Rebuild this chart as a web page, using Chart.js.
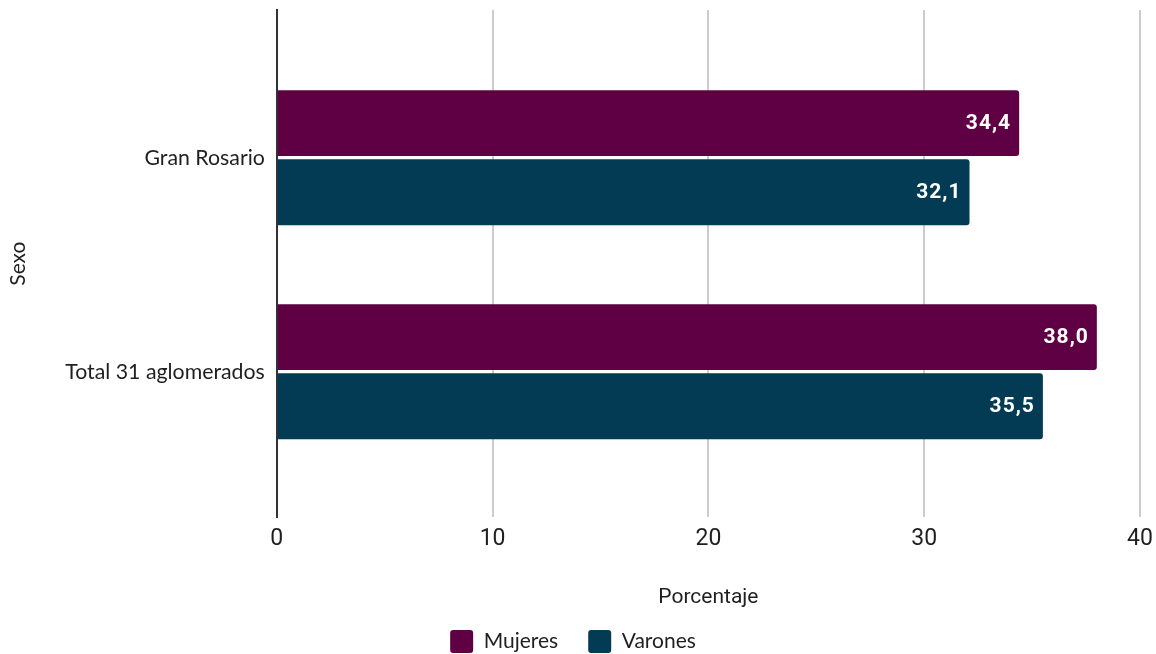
<!DOCTYPE html>
<html lang="es">
<head>
<meta charset="utf-8">
<script src="https://cdn.jsdelivr.net/npm/chart.js@4/dist/chart.umd.min.js"></script>
<style>
  html, body { margin: 0; padding: 0; background: #fff; }
  #wrap { width: 1156px; height: 654px; }
</style>
</head>
<body>
<div id="wrap"><canvas id="chart" width="1156" height="654"></canvas></div>
<script>
// Porcentaje por sexo: Gran Rosario vs total 31 aglomerados
const categorias = ["Gran Rosario", "Total 31 aglomerados"];
const mujeres = [34.4, 38.0];
const varones = [32.1, 35.5];
const xTicks = [0, 10, 20, 30, 40];

const MUJ = "#5e0043";
const VAR = "#033b55";
const TXT = "#1f1f1f";

const fmt = (v) => v.toFixed(1).replace(".", ",");

// etiquetas de valor dentro del extremo de cada barra
const valueLabels = {
  id: "valueLabels",
  afterDatasetsDraw(chart) {
    const ctx = chart.ctx;
    ctx.save();
    ctx.font = "bold 21px Roboto";
    ctx.letterSpacing = "1px";
    ctx.fillStyle = "#fff";
    ctx.textAlign = "right";
    ctx.textBaseline = "middle";
    chart.data.datasets.forEach((ds, i) => {
      chart.getDatasetMeta(i).data.forEach((bar, j) => {
        ctx.fillText(fmt(ds.data[j].x), bar.x - 8, bar.y + 1);
      });
    });
    ctx.restore();
  },
};

new Chart(document.getElementById("chart"), {
  type: "bar",
  data: {
    datasets: [
      {
        label: "Mujeres",
        data: mujeres.map((v, i) => ({ x: v, y: i })),
        backgroundColor: MUJ,
        borderRadius: 3,
        borderSkipped: "left",
        barPercentage: 0.955,
        categoryPercentage: 0.645,
      },
      {
        label: "Varones",
        data: varones.map((v, i) => ({ x: v, y: i })),
        backgroundColor: VAR,
        borderRadius: 3,
        borderSkipped: "left",
        barPercentage: 0.955,
        categoryPercentage: 0.645,
      },
    ],
  },
  options: {
    indexAxis: "y",
    responsive: false,
    animation: false,
    layout: { padding: { top: 10, right: 16, left: 6, bottom: -9 } },
    plugins: {
      tooltip: { enabled: false },
      legend: {
        position: "bottom",
        labels: {
          color: TXT,
          font: { family: "Lato", size: 21 },
          boxWidth: 23,
          boxHeight: 23,
          useBorderRadius: true,
          borderRadius: 3,
          padding: 30,
        },
      },
    },
    scales: {
      x: {
        type: "linear",
        min: 0,
        max: 40,
        afterBuildTicks: (s) => { s.ticks = xTicks.map((v) => ({ value: v })); },
        afterFit: (s) => { s.paddingLeft = 0; s.paddingRight = 0; },
        grid: {
          color: (c) => (c.tick && c.tick.value === 0 ? "rgba(0,0,0,0)" : "#cccccc"),
          lineWidth: 2,
          drawTicks: false,
        },
        border: { display: false },
        ticks: {
          color: TXT,
          font: { family: "Roboto", size: 23 },
          padding: 8,
        },
        title: {
          display: true,
          text: "Porcentaje",
          color: TXT,
          font: { family: "Roboto", size: 21 },
          padding: { top: 24, bottom: -10 },
        },
      },
      y: {
        type: "linear",
        reverse: true,
        offset: false,
        bounds: "data",
        min: -0.69,
        max: 1.68,
        afterBuildTicks: (s) => { s.ticks = categorias.map((_, i) => ({ value: i })); },
        afterFit: (s) => { s.paddingTop = 0; s.paddingBottom = 0; },
        grid: { display: false, drawTicks: false },
        border: { display: true, color: "#333", width: 2 },
        ticks: {
          color: TXT,
          font: { family: "Lato", size: 21.3 },
          padding: 12,
          callback: (v) => categorias[v] ?? "",
        },
        title: {
          display: true,
          text: "Sexo",
          color: TXT,
          font: { family: "Lato", size: 21 },
          padding: { top: 0, bottom: 22 },
        },
      },
    },
  },
  plugins: [valueLabels],
});
</script>
</body>
</html>
